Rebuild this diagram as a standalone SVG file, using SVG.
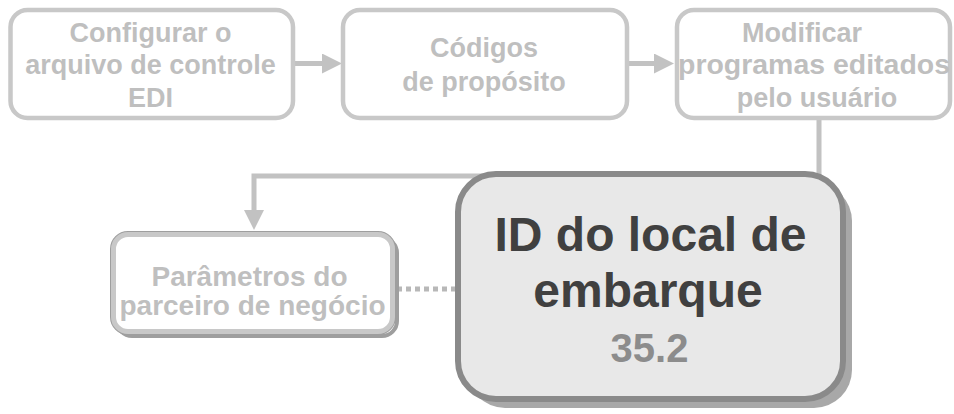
<svg xmlns="http://www.w3.org/2000/svg" width="954" height="414" viewBox="0 0 954 414">
<style>
.box{fill:#ffffff;stroke:#c8c8c8;stroke-width:4.5}
.lt{font-family:"Liberation Sans",Arial,sans-serif;font-weight:bold;fill:#bfbfbf;text-anchor:middle}
.s24{font-size:27px}
.s27{font-size:28px}
.conn{fill:none;stroke:#c2c2c2;stroke-width:5}
.dot{fill:none;stroke:#b8b8b8;stroke-width:5;stroke-dasharray:5 4}
.big{font-family:"Liberation Sans",Arial,sans-serif;font-weight:bold;text-anchor:middle}
</style>
<defs>
<marker id="ah" markerUnits="userSpaceOnUse" markerWidth="20" markerHeight="20" refX="8" refY="10" orient="auto">
<path d="M0,0 L20,10 L0,20 z" fill="#c2c2c2"/>
</marker>
</defs>
<rect width="954" height="414" fill="#ffffff"/>
<g id="connectors">
<line class="conn" x1="293" y1="63.5" x2="330" y2="63.5" marker-end="url(#ah)"/>
<line class="conn" x1="627" y1="63.5" x2="662" y2="63.5" marker-end="url(#ah)"/>
<path class="conn" d="M819,120 V176 H254 V218" marker-end="url(#ah)"/>
<line class="dot" x1="397" y1="289" x2="456" y2="289"/>
</g>
<g id="node-edi">
<rect class="box" x="10.5" y="10" width="282.5" height="108" rx="17"/>
<text class="lt s24" x="150.5" y="42">Configurar o</text>
<text class="lt s24" x="150.5" y="74">arquivo de controle</text>
<text class="lt s24" x="150.5" y="107">EDI</text>
</g>
<g id="node-codigos">
<rect class="box" x="343" y="10" width="284" height="108" rx="17"/>
<text class="lt s24" x="484" y="57">Códigos</text>
<text class="lt s24" x="484" y="91">de propósito</text>
</g>
<g id="node-modificar">
<rect class="box" x="677" y="10" width="273" height="108" rx="17"/>
<text class="lt s24" x="802" y="42">Modificar</text>
<text class="lt s24" x="814" y="74" textLength="272" lengthAdjust="spacingAndGlyphs">programas editados</text>
<text class="lt s24" x="817" y="107">pelo usuário</text>
</g>
<g id="node-parametros">
<rect x="117" y="238" width="280" height="98" rx="15" fill="none" stroke="#9e9e9e" stroke-width="4"/>
<rect x="113" y="234" width="280" height="98" rx="15" fill="#ffffff" stroke="#9e9e9e" stroke-width="6"/>
<rect x="113.5" y="234.5" width="279" height="97" rx="14.5" fill="#ffffff" stroke="#c8c8c8" stroke-width="5"/>
<text class="lt s27" x="249.5" y="286">Parâmetros do</text>
<text class="lt s27" x="252.5" y="315">parceiro de negócio</text>
</g>
<g id="node-id-local">
<rect x="467" y="183" width="385" height="225" rx="38" fill="#a8a8a8"/>
<rect x="458" y="174" width="385" height="225" rx="38" fill="#e8e8e8" stroke="#8a8a8a" stroke-width="6"/>
<text class="big" x="650.5" y="250.7" font-size="48" fill="#404040">ID do local de</text>
<text class="big" x="648" y="306.7" font-size="48" fill="#404040">embarque</text>
<text class="big" x="649.5" y="361.7" font-size="40" fill="#8c8c8c">35.2</text>
</g>
</svg>
